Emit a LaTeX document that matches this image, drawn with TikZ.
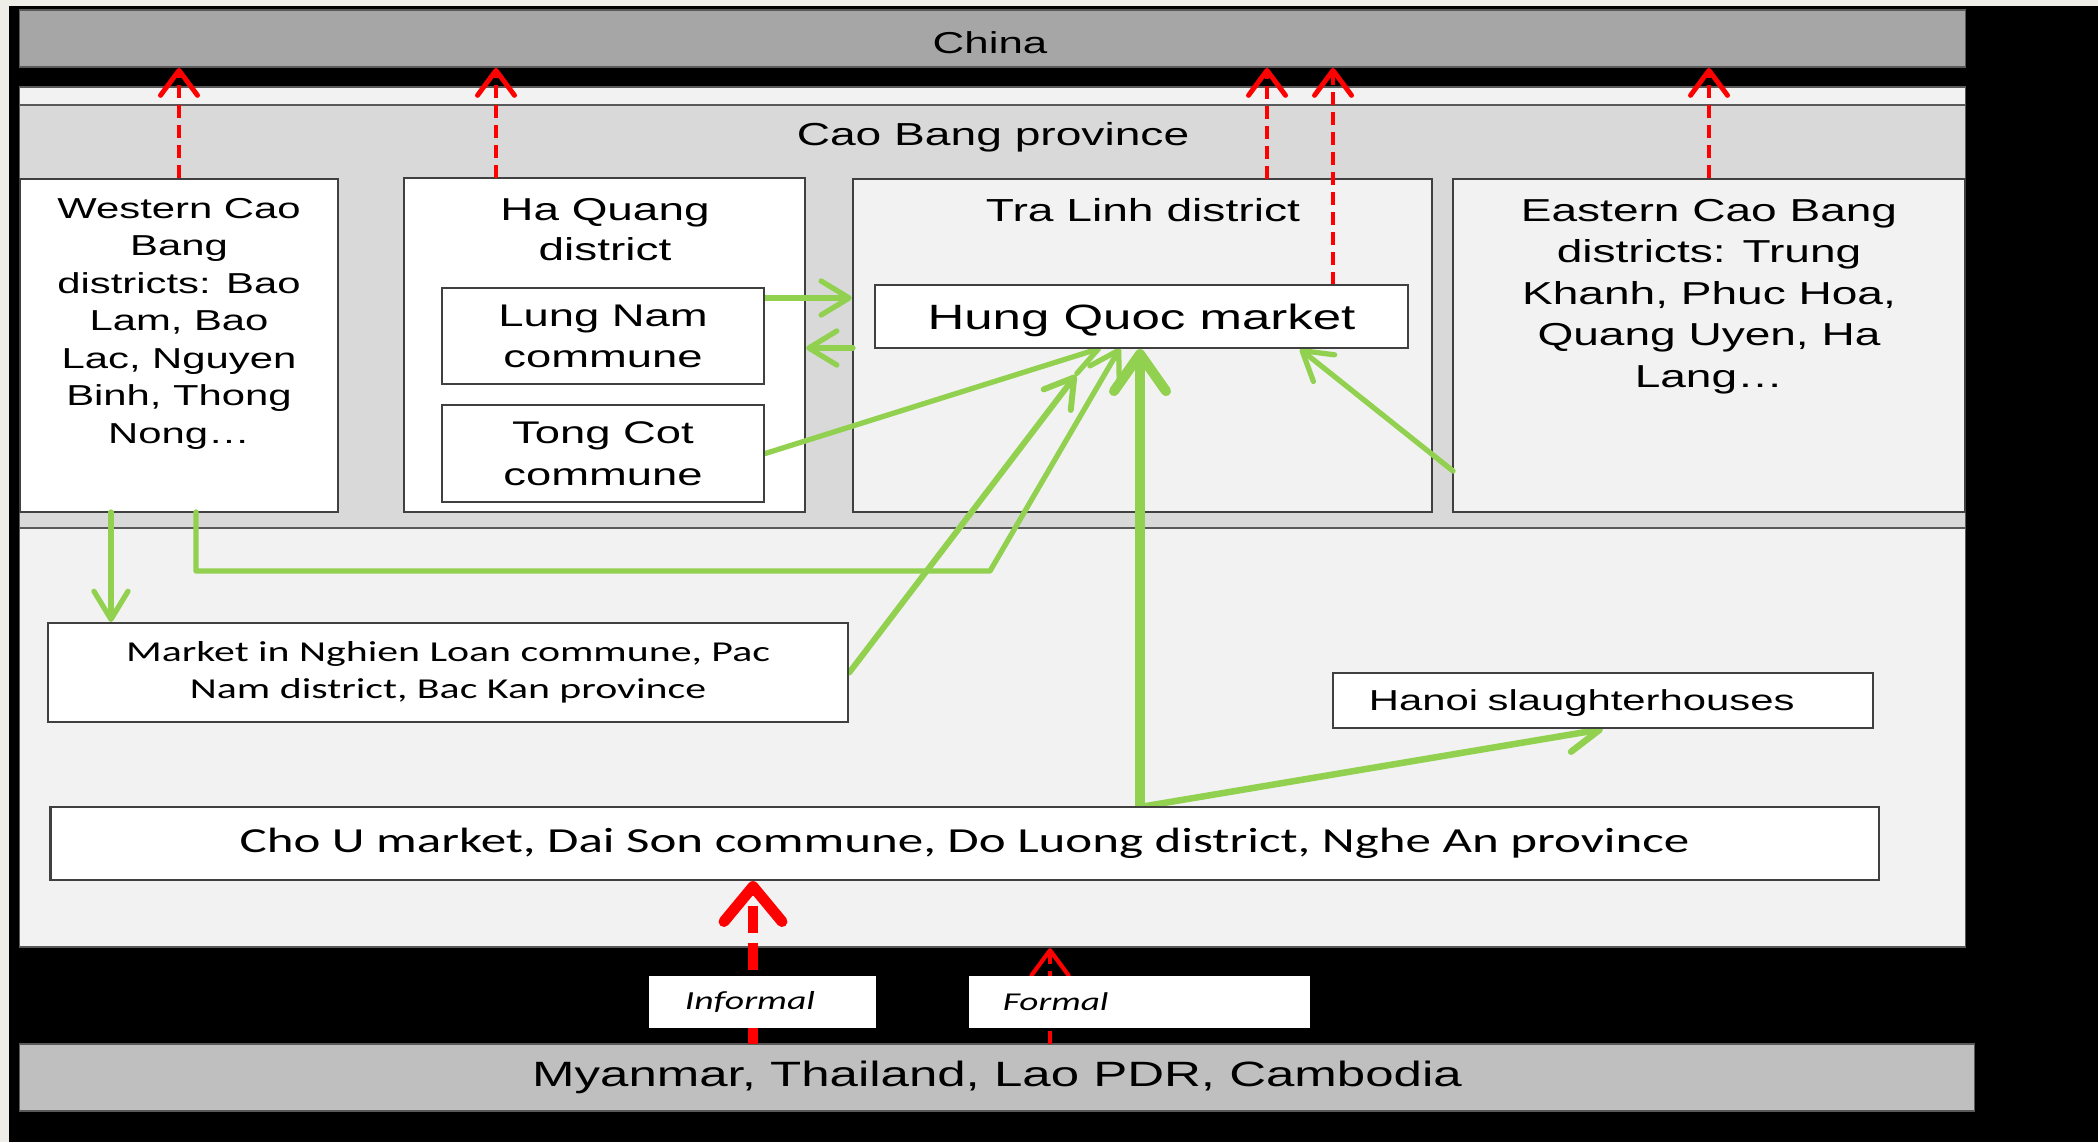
\documentclass[tikz,border=0pt]{standalone}
\usepackage{fontspec}
\setmainfont{Liberation Sans}[FakeStretch=1.45]
\newfontfamily\calibri{Carlito}[FakeStretch=1.45]
\usetikzlibrary{arrows.meta}
\definecolor{slidebg}{HTML}{EEEDE8}
\definecolor{chinagrey}{HTML}{A6A6A6}
\definecolor{provgrey}{HTML}{D9D9D9}
\definecolor{paleback}{HTML}{F2F2F2}
\definecolor{southgrey}{HTML}{BFBFBF}
\definecolor{areaedge}{HTML}{595959}
\definecolor{boxedge}{HTML}{404040}
\definecolor{flowgreen}{HTML}{92D050}
\pgfdeclarelayer{areas}
\pgfdeclarelayer{flows}
\pgfsetlayers{areas,flows,main}

\begin{document}
\begin{tikzpicture}[x=0.01cm, y=-0.01cm, >={Straight Barb[length=2.8mm, width=3.4mm, round]},
    area/.style={draw=areaedge, line width=0.5pt, inner sep=0pt, minimum width=19.45cm},
    district/.style={draw=boxedge, line width=0.6pt, inner sep=0pt, minimum height=3.33cm},
    title/.style={inner sep=0pt, align=center},
    box/.style={draw=boxedge, line width=0.6pt, fill=white, inner sep=0pt, align=center},
    flow/.style={draw=flowgreen, line width=1.5pt, line cap=round, line join=round},
    leak/.style={draw=red, line width=1.4pt, dash pattern=on 1.3mm off 0.7mm,
        -{Straight Barb[length=2.5mm, width=3.7mm, round]}}]
    \useasboundingbox (0,0) rectangle (2098,1142);

    % frame and regions
    \begin{pgfonlayer}{areas}
        \fill[black] (0,0) rectangle (2098,1142);
        \fill[slidebg] (0,0) rectangle (2098,6);
        \fill[slidebg] (0,0) rectangle (9,1142);
        \node[area, fill=paleback, minimum height=8.6cm] (mainarea) at (992.5,517) {};
        \node[area, fill=provgrey, minimum height=4.23cm] (caobang) at (992.5,316.5) {};
        \node[title, anchor=base, font=\fontsize{9.05}{11}\selectfont] (caobangtxt) at (993,145.4) {Cao Bang province};
        \node[area, fill=chinagrey, minimum height=0.57cm] (china) at (992.5,38.5) {};
        \node[title, anchor=base, font=\fontsize{8.6}{10}\selectfont] (chinatxt) at (990,53.7) {China};
        \node[area, fill=southgrey, minimum width=19.54cm, minimum height=0.67cm,
            font=\fontsize{10}{12}\selectfont] (south) at (997,1077.5) {Myanmar, Thailand, Lao PDR, Cambodia};

        \node[district, fill=white, minimum width=3.18cm] (western) at (179,345.5) {};
        \node[district, fill=white, minimum width=4.01cm, minimum height=3.34cm] (haquang) at (604.5,345) {};
        \node[district, fill=paleback, minimum width=5.79cm] (tralinh) at (1142.5,345.5) {};
        \node[district, fill=paleback, minimum width=5.12cm] (eastern) at (1709,345.5) {};

        \node[title, anchor=north, font=\fontsize{8.2}{10.67}\selectfont] (westerntxt) at (179,197.5)
            {Western Cao\\Bang\\districts: Bao\\Lam, Bao\\Lac, Nguyen\\Binh, Thong\\Nong…};
        \node[title, anchor=north, font=\fontsize{9}{11.4}\selectfont] (haquangtxt) at (605,197.5) {Ha Quang\\district};
        \node[title, anchor=base, font=\fontsize{9.06}{11}\selectfont] (tralinhtxt) at (1143,221.4) {Tra Linh district};
        \node[title, anchor=north, font=\fontsize{9.03}{11.8}\selectfont] (easterntxt) at (1709,198.5)
            {Eastern Cao Bang\\districts: Trung\\Khanh, Phuc Hoa,\\Quang Uyen, Ha\\Lang…};
    \end{pgfonlayer}

    % markets
    \node[box, minimum width=3.22cm, minimum height=0.96cm, text depth=0pt, font=\fontsize{8.9}{11.8}\selectfont] (lungnam) at (603,336) {Lung Nam\\commune};
    \node[box, minimum width=3.22cm, minimum height=0.97cm, text depth=0pt, font=\fontsize{8.9}{11.8}\selectfont] (tongcot) at (603,453.5) {Tong Cot\\commune};
    \node[box, minimum width=5.33cm, minimum height=0.63cm, text depth=0pt, font=\fontsize{10}{12}\selectfont] (hungquoc) at (1141.5,316.5) {Hung Quoc market};
    \node[box, minimum width=8cm, minimum height=0.99cm, font=\calibri\fontsize{8.2}{10.67}\selectfont] (nghienloan) at (448,672.5)
        {Market in Nghien Loan commune, Pac\\Nam district, Bac Kan province};
    \node[box, minimum height=0.55cm, text width=4.68cm, inner xsep=0.36cm, align=left, text depth=0pt,
        font=\fontsize{8.2}{10}\selectfont] (hanoi) at (1603,700.5) {Hanoi slaughterhouses};
    \node[box, minimum width=18.27cm, minimum height=0.73cm, font=\calibri\fontsize{10}{12}\selectfont] (chou) at (964.5,843.5)
        {Cho U market, Dai Son commune, Do Luong district, Nghe An province};
    \node[fill=white, minimum height=0.52cm, text width=1.55cm, inner xsep=0.36cm, inner ysep=0pt, align=left,
        font=\calibri\itshape\fontsize{7.4}{9}\selectfont] (informal) at (762.5,1002) {Informal};
    \node[fill=white, minimum height=0.52cm, text width=2.73cm, inner xsep=0.34cm, inner ysep=0pt, align=left,
        font=\calibri\itshape\fontsize{7.3}{9}\selectfont] (formal) at (1139.5,1002) {Formal};

    % connector ends
    \coordinate (hqgate) at (496,178);
    \coordinate (tlgate) at (1267,179);
    \coordinate (hmgate) at (1333,285);
    \coordinate (lnout) at (764,298);
    \coordinate (tlout) at (853,348);
    \coordinate (hmA) at (1101,348);
    \coordinate (hmB) at (1076,375);
    \coordinate (hmC) at (1120,348);
    \coordinate (hmD) at (1300,349);
    \coordinate (wsA) at (111,512);
    \coordinate (wsB) at (196,512);
    \coordinate (bend) at (990,571);
    \coordinate (ecout) at (1453,471);
    \coordinate (chout) at (1140,807);
    \coordinate (infgate) at (753,1044);
    \coordinate (fmgate) at (1050,1044);

    \begin{pgfonlayer}{flows}
        % to China
        \draw[leak] (western.north) -- (western.north |- china.south);
        \draw[leak] (hqgate) -- (hqgate |- china.south);
        \draw[leak] (tlgate) -- (tlgate |- china.south);
        \draw[leak] (hmgate) -- (hmgate |- china.south);
        \draw[leak] (eastern.north) -- (eastern.north |- china.south);
        % inside Vietnam
        \draw[flow, ->] (lnout) -- (lnout -| tralinh.west);
        \draw[flow, ->] (tlout) -- (tlout -| haquang.east);
        \draw[flow, ->] (tongcot.east) -- (hmA);
        \draw[flow, ->, line width=1.7pt] (nghienloan.east) -- (hmB);
        \draw[flow, ->] (wsA) -- (wsA |- nghienloan.north);
        \draw[flow, ->] (wsB) |- (bend) -- (hmC);
        \draw[flow, ->] (ecout) -- (hmD);
        \draw[flow, line width=2.85pt, -{Straight Barb[length=3.7mm, width=5.2mm, round]}] (chout) -- (chout |- hungquoc.south);
        \draw[flow, line width=1.85pt, -{Straight Barb[length=3.2mm, width=3.4mm, round]}] (chout) -- (hanoi.south);
        % from the south
        \draw[red, line width=3.1pt, dash pattern=on 2.7mm off 1mm,
            -{Straight Barb[length=3.5mm, width=5.8mm, round]}] (infgate) -- (infgate |- chou.south);
        \draw[leak, line width=1.2pt] (fmgate) -- (fmgate |- mainarea.south);
    \end{pgfonlayer}
\end{tikzpicture}
\end{document}
